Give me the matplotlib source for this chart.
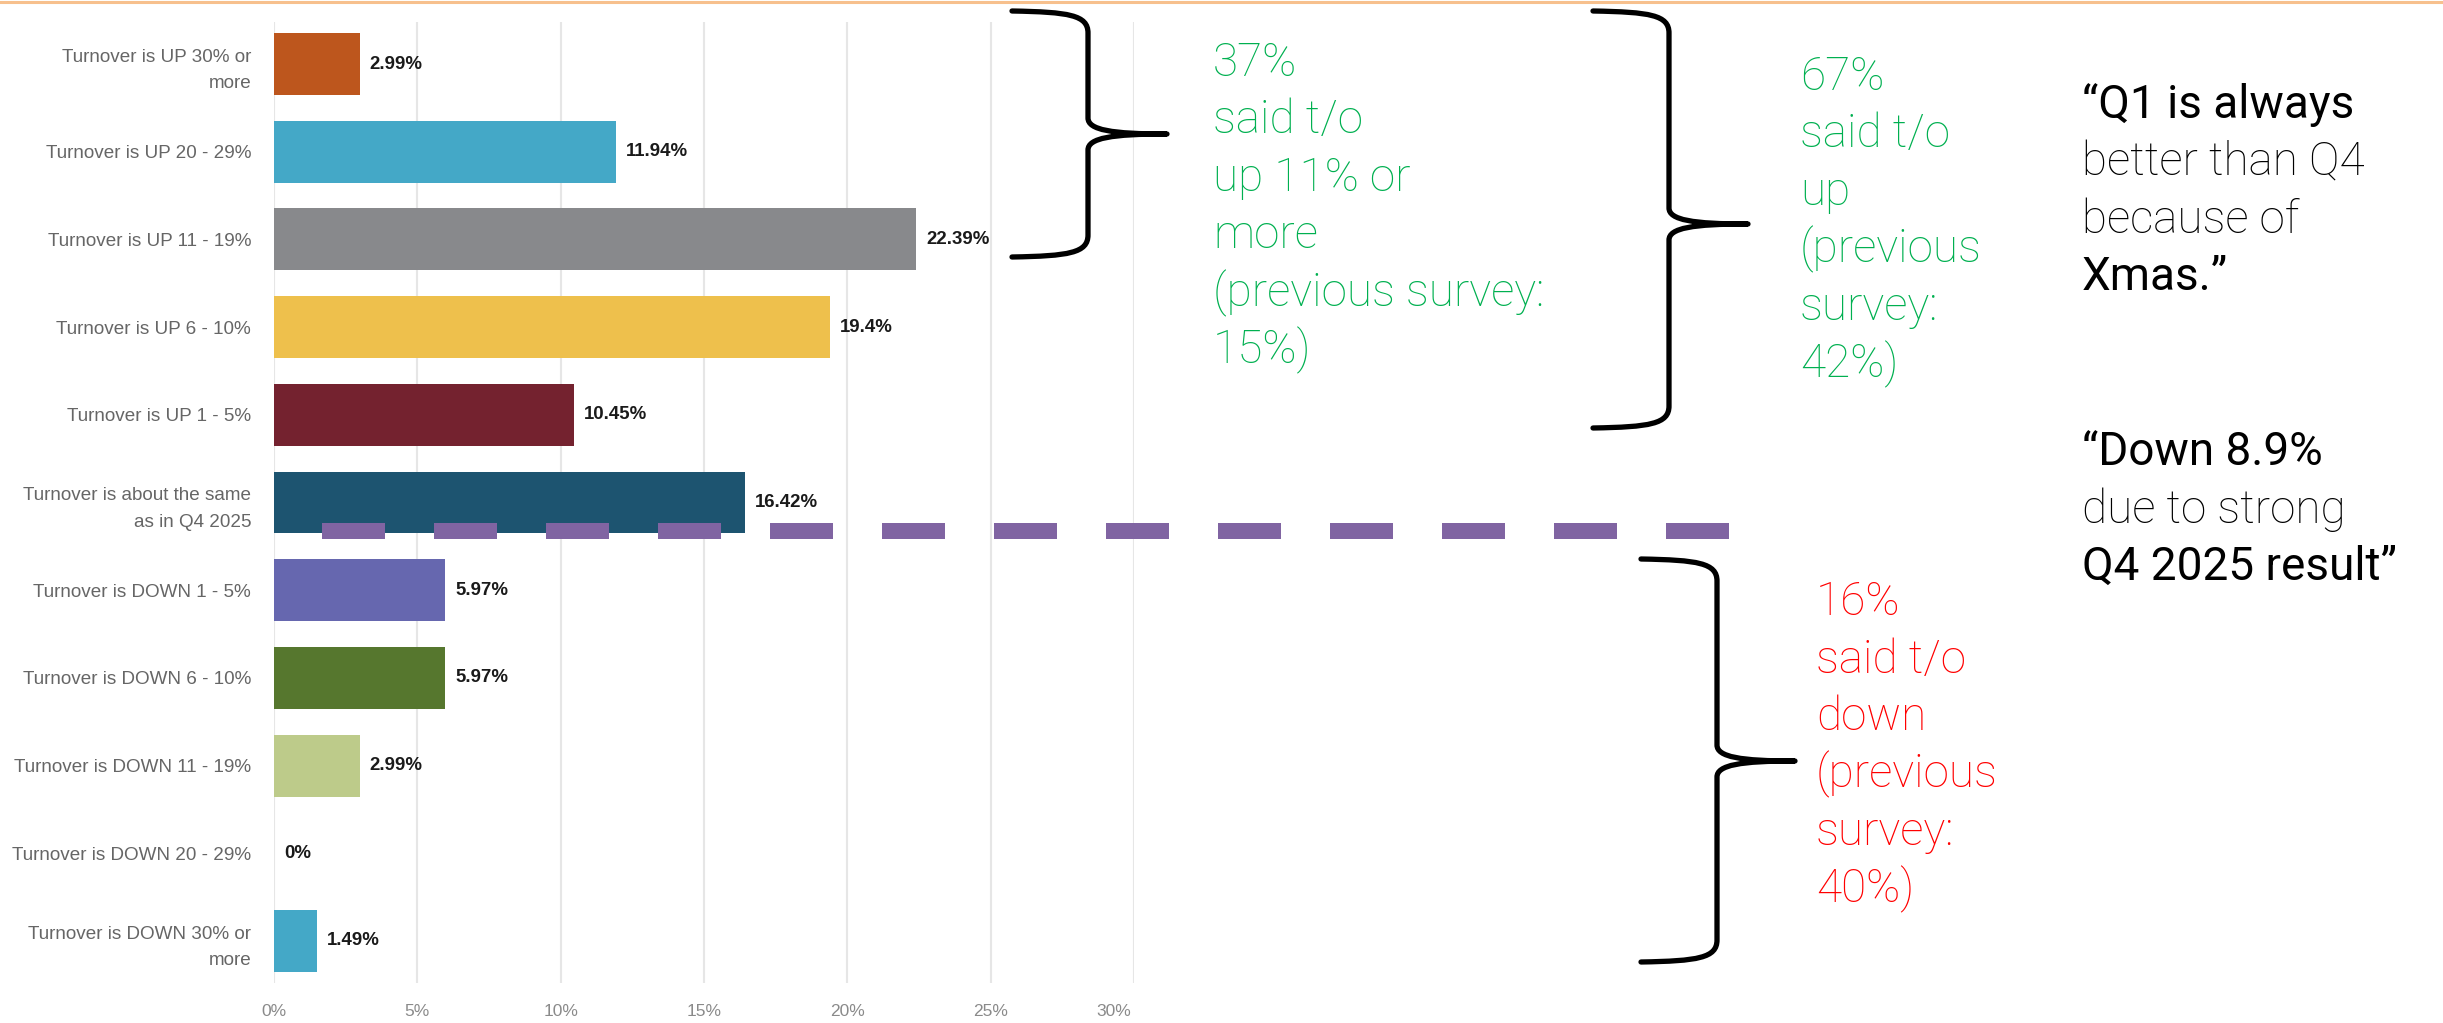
import matplotlib.pyplot as plt
from matplotlib.path import Path
from matplotlib.patches import PathPatch
from matplotlib.lines import Line2D
from matplotlib.transforms import ScaledTranslation

plt.rcParams['font.family'] = ['Liberation Sans', 'DejaVu Sans']

# Survey answers, top to bottom
categories = [
    'Turnover is UP 30% or\nmore',
    'Turnover is UP 20 - 29%',
    'Turnover is UP 11 - 19%',
    'Turnover is UP 6 - 10%',
    'Turnover is UP 1 - 5%',
    'Turnover is about the same\nas in Q4 2025',
    'Turnover is DOWN 1 - 5%',
    'Turnover is DOWN 6 - 10%',
    'Turnover is DOWN 11 - 19%',
    'Turnover is DOWN 20 - 29%',
    'Turnover is DOWN 30% or\nmore',
]
values = [2.99, 11.94, 22.39, 19.4, 10.45, 16.42, 5.97, 5.97, 2.99, 0, 1.49]
bar_colors = ['#BD561D', '#44A8C7', '#88898C', '#EEC04C', '#74222F', '#1D5470',
              '#6667AF', '#56772E', '#BDCB8A', '#9E9E9E', '#44A8C7']
x_ticks = [0, 5, 10, 15, 20, 25, 30]

# Notes next to the chart
up_11_note = ['37%', 'said t/o', 'up 11% or', 'more', '(previous survey:', '15%)']
up_all_note = ['67%', 'said t/o', 'up', '(previous', 'survey:', '42%)']
down_note = ['16%', 'said t/o', 'down', '(previous', 'survey:', '40%)']
quote_xmas = [('\u201cQ1 is always', 'normal'), ('better than Q4', 'light'),
              ('because of', 'light'), ('Xmas.\u201d', 'normal')]
quote_down = [('\u201cDown 8.9%', 'normal'), ('due to strong', 'light'),
              ('Q4 2025 result\u201d', 'normal')]

W, H = 2443, 1023
fig = plt.figure(figsize=(W / 100, H / 100), dpi=100)
fig.patch.set_facecolor('white')

# thin orange rule along the top
fig.add_artist(Line2D([0, 1], [1 - 1.5 / H, 1 - 1.5 / H], color='#F7C08D', lw=2.2))

ax = fig.add_axes([274 / W, 1 - 983 / H, (1134 - 274) / W, (983 - 22) / H])
rows = list(range(len(values)))
ax.barh(rows, values, height=0.707, color=bar_colors, zorder=2)
ax.set_ylim(10.48, -0.48)
ax.set_xlim(0, 30)
ax.set_xticks(x_ticks)
ax.set_xticklabels([f'{t}%' for t in x_ticks])
ax.set_yticks(rows)
ax.set_yticklabels(categories)
ax.tick_params(axis='x', length=0, pad=15, labelsize=12.5, labelcolor='#8a8a8a')
ax.tick_params(axis='y', length=0, pad=16.5, labelsize=13.6, labelcolor='#666666')
for lbl in ax.get_yticklabels():
    lbl.set_linespacing(1.7)
# last tick label sits a bit left of its gridline
last = ax.get_xticklabels()[-1]
last.set_transform(last.get_transform() + ScaledTranslation(-0.2, 0, fig.dpi_scale_trans))
ax.grid(axis='x', color='#e6e6e6', lw=1.5)
ax.set_axisbelow(True)
for s in ax.spines.values():
    s.set_visible(False)

for i, v in enumerate(values):
    ax.text(v + 0.35, i, f'{v:g}%', va='center', ha='left', fontsize=13.4,
            fontweight='bold', color='#1a1a1a')

# dashed divider between "up" and "down" answers
fig.add_artist(Line2D([322 / W, 1729 / W], [1 - 531 / H, 1 - 531 / H], color='#8064A2',
                      lw=11.52, linestyle=(0, (3.9375, 3.0625)), dash_capstyle='butt', zorder=5))


def draw_brace(x0, xs, xt, yt, ym, yb):
    # right curly brace, pixel coords measured from top-left
    pts = [
        (x0, yt), (x0 + 0.75 * (xs - x0), yt + 1), (xs, yt + 4), (xs, yt + 22),
        (xs, ym - 16),
        (xs, ym - 4), (xs + 0.3 * (xt - xs), ym), (xt, ym),
        (xs + 0.3 * (xt - xs), ym), (xs, ym + 4), (xs, ym + 16),
        (xs, yb - 22),
        (xs, yb - 4), (x0 + 0.75 * (xs - x0), yb - 1), (x0, yb),
    ]
    codes = [Path.MOVETO, Path.CURVE4, Path.CURVE4, Path.CURVE4, Path.LINETO,
             Path.CURVE4, Path.CURVE4, Path.CURVE4,
             Path.CURVE4, Path.CURVE4, Path.CURVE4, Path.LINETO,
             Path.CURVE4, Path.CURVE4, Path.CURVE4]
    verts = [(x / W, 1 - y / H) for x, y in pts]
    fig.add_artist(PathPatch(Path(verts, codes), transform=fig.transFigure, fill=False,
                             lw=3.8, edgecolor='black', capstyle='round', joinstyle='round'))


draw_brace(1012, 1088, 1167, 11, 134, 257)
draw_brace(1593, 1669, 1748, 11, 224, 428)
draw_brace(1641, 1717, 1795, 559, 761, 962)

note_font = ['Roboto', 'DejaVu Sans']
step = 57.5


def note(lines, x, y0, color):
    for k, line in enumerate(lines):
        if isinstance(line, tuple):
            line, weight = line
        else:
            weight = 'light'
        fig.text(x / W, 1 - (y0 + k * step) / H, line, va='baseline', ha='left',
                 fontsize=33, color=color, family=note_font, fontweight=weight)


note(up_11_note, 1213, 76, '#00B050')
note(up_all_note, 1800, 90, '#00B050')
note(down_note, 1816, 615, '#FF0000')
note(quote_xmas, 2082, 118, 'black')
note(quote_down, 2082, 465, 'black')

fig.savefig('out.png', dpi=100)
